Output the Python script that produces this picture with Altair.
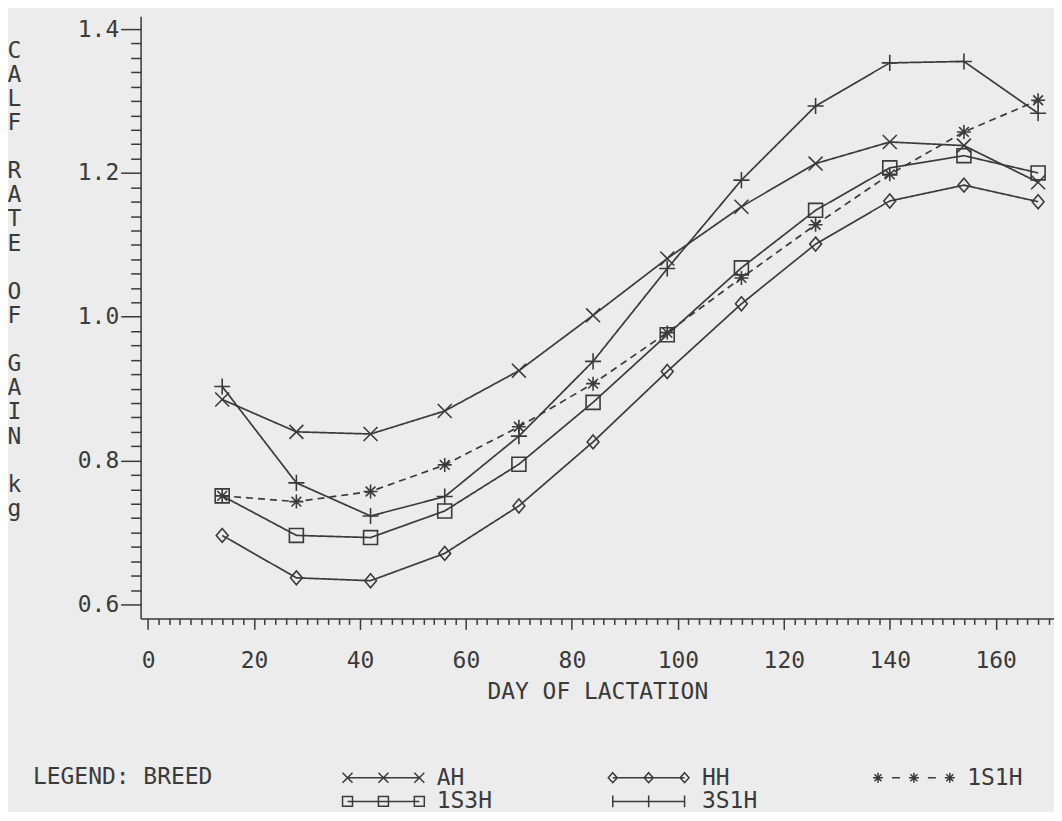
import altair as alt
import pandas as pd

# ---- data ----
days = [14, 28, 42, 56, 70, 84, 98, 112, 126, 140, 154, 168]
breeds = ["AH", "HH", "1S1H", "1S3H", "3S1H"]
gain_ah = [0.885, 0.840, 0.837, 0.869, 0.925, 1.002, 1.081, 1.153, 1.213, 1.243, 1.238, 1.187]
gain_hh = [0.696, 0.637, 0.633, 0.671, 0.737, 0.826, 0.924, 1.018, 1.101, 1.161, 1.183, 1.160]
gain_1s1h = [0.751, 0.743, 0.757, 0.794, 0.847, 0.907, 0.978, 1.054, 1.128, 1.198, 1.257, 1.301]
gain_1s3h = [0.751, 0.696, 0.693, 0.730, 0.795, 0.881, 0.975, 1.068, 1.148, 1.207, 1.224, 1.200]
gain_3s1h = [0.903, 0.769, 0.723, 0.750, 0.834, 0.938, 1.067, 1.190, 1.293, 1.353, 1.355, 1.283]

x_ticks = list(range(0, 172, 2))
y_ticks = [round(0.6 + 0.02 * i, 2) for i in range(41)]

series = {"AH": gain_ah, "HH": gain_hh, "1S1H": gain_1s1h, "1S3H": gain_1s3h, "3S1H": gain_3s1h}
rows = []
for b in breeds:
    for d, v in zip(days, series[b]):
        rows.append({"day": d, "breed": b, "gain": v})
df = pd.DataFrame(rows)

INK = "#3a3a3a"
BG = "#ececec"
FONT = "DejaVu Sans Mono"
FS = 23
NB = "\u200b"

# ---- marker shapes (SVG paths) ----
m_x = "M-1,-1L1,1M-1,1L1,-1"
m_plus = "M-1.15,0L1.15,0M0,-1.15L0,1.15"
m_star = "M-1,0L1,0M0,-1L0,1M-0.7,-0.7L0.7,0.7M-0.7,0.7L0.7,-0.7"
m_square = "M-1,-1L1,-1L1,1L-1,1Z"
m_diamond = "M0,-1L0.85,0L0,1L-0.85,0Z"
marker_paths = [m_x, m_diamond, m_star, m_square, m_plus]


def fmt(v):
    return f"{v:.2f}"


def leg_path(kind, dashed=False):
    h = 0.5
    cs = [-3.6, 0.0, 3.6]
    if dashed:
        p = "M-2.2,0L-1.4,0M1.4,0L2.2,0"
    else:
        p = "M-3.6,0L3.6,0"
    for c in cs:
        if kind == "x":
            p += f"M{fmt(c-h)},{fmt(-h)}L{fmt(c+h)},{fmt(h)}M{fmt(c-h)},{fmt(h)}L{fmt(c+h)},{fmt(-h)}"
        elif kind == "plus":
            p += f"M{fmt(c)},-0.6L{fmt(c)},0.6"
        elif kind == "star":
            p += (f"M{fmt(c-h)},0L{fmt(c+h)},0M{fmt(c)},{fmt(-h)}L{fmt(c)},{fmt(h)}"
                  f"M{fmt(c-0.35)},-0.35L{fmt(c+0.35)},0.35M{fmt(c-0.35)},0.35L{fmt(c+0.35)},-0.35")
        elif kind == "square":
            p += f"M{fmt(c-h)},{fmt(-h)}L{fmt(c+h)},{fmt(-h)}L{fmt(c+h)},{fmt(h)}L{fmt(c-h)},{fmt(h)}Z"
        elif kind == "diamond":
            p += f"M{fmt(c)},{fmt(-h)}L{fmt(c+0.45)},0L{fmt(c)},{fmt(h)}L{fmt(c-0.45)},0Z"
    return p


legend_paths = [leg_path("x"), leg_path("diamond"), leg_path("star", dashed=True),
                leg_path("square"), leg_path("plus")]

x_axis = alt.Axis(
    values=x_ticks,
    tickSize={"condition": {"test": "datum.value % 20 === 0", "value": 11}, "value": 6},
    labelExpr="datum.value % 20 === 0 ? datum.label : ''",
    labelOverlap=False,
    labelFlush=False,
    labelBaseline="alphabetic",
    labelPadding=38,
    title="DAY OF LACTATION",
    titleBaseline="alphabetic",
    titleY=80,
    grid=False,
)

y_title = ["C", "A", "L", "F", NB, "R", "A", "T", "E", NB, "O", "F", NB,
           "G", "A", "I", "N", NB, "k", "g"]

y_axis = alt.Axis(
    values=y_ticks,
    tickSize={"condition": {"test": "abs(datum.value*5 - round(datum.value*5)) < 0.001", "value": 20},
              "value": 10},
    labelExpr="abs(datum.value*5 - round(datum.value*5)) < 0.001 ? format(datum.value, '.1f') : ''",
    labelOverlap=False,
    labelFlush=False,
    labelPadding=2,
    title=y_title,
    titleAngle=0,
    titleAlign="center",
    titleBaseline="alphabetic",
    titleX=-127,
    titleY=41,
    titleLineHeight=24.2,
    grid=False,
)

x_enc = alt.X("day:Q", scale=alt.Scale(domain=[-1.4, 171], nice=False, zero=False), axis=x_axis)
y_enc = alt.Y("gain:Q", scale=alt.Scale(domain=[0.5806, 1.418], nice=False, zero=False), axis=y_axis)

base = alt.Chart(df)

lines = base.mark_line(color=INK, strokeWidth=1.7).encode(
    x=x_enc, y=y_enc, detail="breed:N",
    strokeDash=alt.StrokeDash("breed:N", scale=alt.Scale(domain=breeds,
                              range=[[1, 0], [1, 0], [7, 5], [1, 0], [1, 0]]), legend=None),
)

points = base.mark_point(filled=False, color=INK, strokeWidth=1.6, size=196, opacity=1).encode(
    x=x_enc, y=y_enc,
    shape=alt.Shape("breed:N", scale=alt.Scale(domain=breeds, range=marker_paths), legend=None),
)

legend_layer = base.mark_point(filled=False, color=INK, strokeWidth=1.5, opacity=0).encode(
    x=x_enc, y=y_enc,
    shape=alt.Shape("breed:N", scale=alt.Scale(domain=breeds, range=legend_paths),
                    legend=alt.Legend(
                        title="LEGEND: BREED",
                        orient="none",
                        direction="horizontal",
                        legendX=-108,
                        legendY=752,
                        columns=3,
                        gridAlign="all",
                        columnPadding=112,
                        rowPadding=0,
                        symbolSize=400,
                        symbolStrokeWidth=1.5,
                        symbolStrokeColor=INK,
                        symbolFillColor="transparent",
                        symbolOpacity=1,
                        labelOffset=42,
                        labelFont=FONT,
                        labelFontSize=FS,
                        labelColor=INK,
                        titleOrient="left",
                        titleAnchor="start",
                        titleBaseline="top",
                        titlePadding=159,
                        titleFont=FONT,
                        titleFontSize=FS,
                        titleFontWeight="normal",
                        titleColor=INK,
                        titleLimit=400,
                        padding=0,
                    )),
)

chart = alt.layer(lines, points, legend_layer).resolve_scale(
    shape="independent"
).properties(
    width=916,
    height=604,
    padding={"left": 133, "top": 7, "right": 0, "bottom": 193},
    autosize=alt.AutoSizeParams(type="none"),
    background=BG,
).configure_view(
    stroke=None
).configure_axis(
    domainColor=INK,
    domainWidth=1.5,
    tickColor=INK,
    tickWidth=1.5,
    labelFont=FONT,
    labelFontSize=FS,
    labelColor=INK,
    titleFont=FONT,
    titleFontSize=FS,
    titleFontWeight="normal",
    titleColor=INK,
)

chart.save("out.html", embed_options={"renderer": "svg", "actions": False})
